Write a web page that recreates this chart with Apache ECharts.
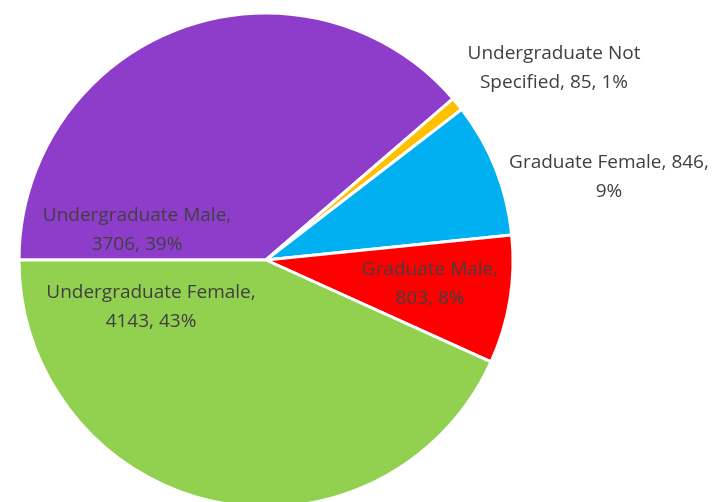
<!DOCTYPE html>
<html>
<head>
<meta charset="utf-8">
<script src="https://cdn.jsdelivr.net/npm/echarts@6/dist/echarts.min.js"></script>
<style>
  html, body { margin: 0; padding: 0; background: #fff; }
  #enrol-pie { width: 719px; height: 502px; }
</style>
</head>
<body>
<div id="enrol-pie"></div>
<script>
// data, clockwise from 9 o'clock
const categories = ['Undergraduate Male', 'Undergraduate Not Specified', 'Graduate Female', 'Graduate Male', 'Undergraduate Female']
const counts = [3706, 85, 846, 803, 4143]
const percents = ['39%', '1%', '9%', '8%', '43%']
const labelLines = [
  ['Undergraduate Male,', '3706, 39%'],
  ['Undergraduate Not', 'Specified, 85, 1%'],
  ['Graduate Female, 846,', '9%'],
  ['Graduate Male,', '803, 8%'],
  ['Undergraduate Female,', '4143, 43%']
]

const colors = ['#8E3DCB', '#FFC000', '#00B0F0', '#FF0000', '#92D050']
// where each label box sits (centre, px)
const labelPos = [[137, 230], [554, 68], [609, 177], [430, 284], [151, 307]]

const chart = echarts.init(document.getElementById('enrol-pie'))
chart.setOption({
  animation: false,
  series: [
    {
      type: 'pie',
      center: [266, 260],
      radius: 247,
      startAngle: 180,
      clockwise: true,
      avoidLabelOverlap: false,
      itemStyle: {
        borderColor: '#fff',
        borderWidth: 3
      },
      label: {
        show: true,
        position: 'inside',
        fontFamily: 'Open Sans',
        fontSize: 19,
        lineHeight: 29,
        color: '#404040',
        align: 'center',
        formatter: (p) => labelLines[p.dataIndex].join('\n')
      },
      labelLine: { show: false },
      labelLayout: (p) => ({
        x: labelPos[p.dataIndex][0],
        y: labelPos[p.dataIndex][1],
        align: 'center',
        verticalAlign: 'middle'
      }),
      data: categories.map((name, i) => ({
        name,
        value: counts[i],
        itemStyle: { color: colors[i] }
      }))
    }
  ]
})
</script>
</body>
</html>
